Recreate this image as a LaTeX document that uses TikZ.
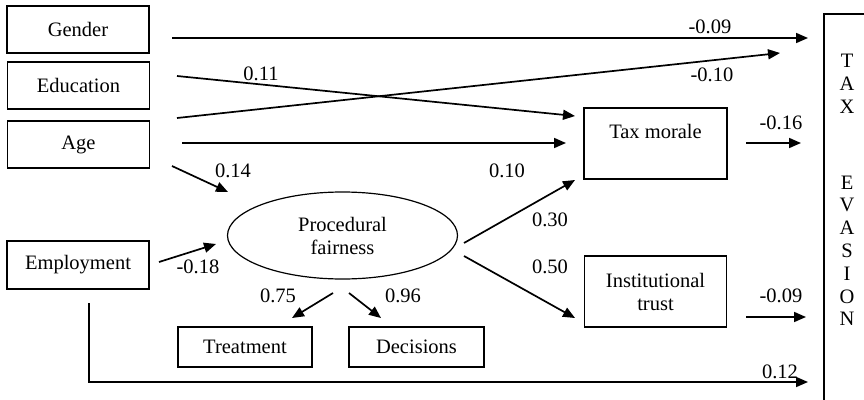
\documentclass[tikz,border=0pt]{standalone}
\usepackage{fontspec}
\setmainfont{Liberation Serif}
\usetikzlibrary{arrows.meta,shapes.geometric}
\begin{document}
\begin{tikzpicture}[x=1pt,y=-1pt,
  every node/.style={font=\fontsize{20.5}{23}\selectfont, inner sep=0pt},
  box/.style={draw, line width=1.2pt, minimum width=142pt},
  lbl/.style={},
  conn/.style={line width=1.7pt, -{Triangle[length=12pt,width=10pt]}},
  plain/.style={line width=1.7pt}]
\useasboundingbox (0,0) rectangle (864,399);
\clip (0,0) rectangle (864,399);
% boxes
\node[box, minimum height=47pt] (gender) at (78,29.5) {Gender};
\node[box, minimum height=47pt] (education) at (78.5,85.5) {Education};
\node[box, minimum height=47pt] (age) at (78.5,144.5) {Age};
\node[box, minimum height=48pt] (employment) at (78,265) {Employment};
\node[box, minimum width=134pt, minimum height=40pt] (treatment) at (245,347) {Treatment};
\node[box, minimum width=135pt, minimum height=40pt] (decisions) at (416.5,347) {Decisions};
\node[draw, line width=1.2pt, ellipse, minimum width=230pt, minimum height=87pt, align=center] (pf) at (342.5,235.5) {Procedural\\fairness};
\draw[line width=1.2pt] (584,108) rectangle (727,179);
\node (taxmorale) at (655.5,131) {Tax morale};
\node[box, minimum height=71pt, align=center] (trust) at (655.5,291.5) {Institutional\\trust};
\draw[line width=1.2pt] (824,420) -- (824,14) -- (900,14);
\node[align=center, font=\fontsize{20.5}{22.8}\selectfont] (evasion) at (847,190) {T\\A\\X\\[53pt]E\\V\\A\\S\\I\\O\\N};
% coordinates
\coordinate (g1) at (172,38);   \coordinate (g2) at (808,38);
\coordinate (e1) at (177,76);   \coordinate (e2) at (575,116);
\coordinate (a1) at (177,118);  \coordinate (a2) at (780,53);
\coordinate (a3) at (182,143);  \coordinate (a4) at (566,143);
\coordinate (a5) at (172,166);  \coordinate (a6) at (228,192);
\coordinate (m1) at (159,262);  \coordinate (m2) at (216,244);
\coordinate (p1) at (464,243);  \coordinate (p2) at (575,180);
\coordinate (p3) at (464,256);  \coordinate (p4) at (575,318);
\coordinate (p5) at (333,293);  \coordinate (p6) at (292,318);
\coordinate (p7) at (349,293);  \coordinate (p8) at (381,318);
\coordinate (t1) at (746,143);  \coordinate (t2) at (801,143);
\coordinate (i1) at (746,317);  \coordinate (i2) at (806,317);
\coordinate (b1) at (89,303);   \coordinate (b2) at (89,382);  \coordinate (b3) at (808,382);
% connectors
\draw[conn] (g1) -- (g2);
\draw[conn] (e1) -- (e2);
\draw[conn] (a1) -- (a2);
\draw[conn] (a3) -- (a4);
\draw[conn] (a5) -- (a6);
\draw[conn] (m1) -- (m2);
\draw[conn] (p1) -- (p2);
\draw[conn] (p3) -- (p4);
\draw[conn] (p5) -- (p6);
\draw[conn] (p7) -- (p8);
\draw[conn] (t1) -- (t2);
\draw[conn] (i1) -- (i2);
\draw[conn] (b1) -- (b2) -- (b3);
% labels
\node[lbl] (l1) at (710,27) {-0.09};
\node[lbl] (l2) at (261,74) {0.11};
\node[lbl] (l3) at (712,75) {-0.10};
\node[lbl] (l4) at (507,171) {0.10};
\node[lbl] (l5) at (233,171) {0.14};
\node[lbl] (l6) at (781,123) {-0.16};
\node[lbl] (l7) at (198,267) {-0.18};
\node[lbl] (l8) at (550,220) {0.30};
\node[lbl] (l9) at (550,267) {0.50};
\node[lbl] (l10) at (781,296) {-0.09};
\node[lbl] (l11) at (780,372) {0.12};
\node[lbl] (l12) at (278,296) {0.75};
\node[lbl] (l13) at (403,296) {0.96};
\end{tikzpicture}
\end{document}
